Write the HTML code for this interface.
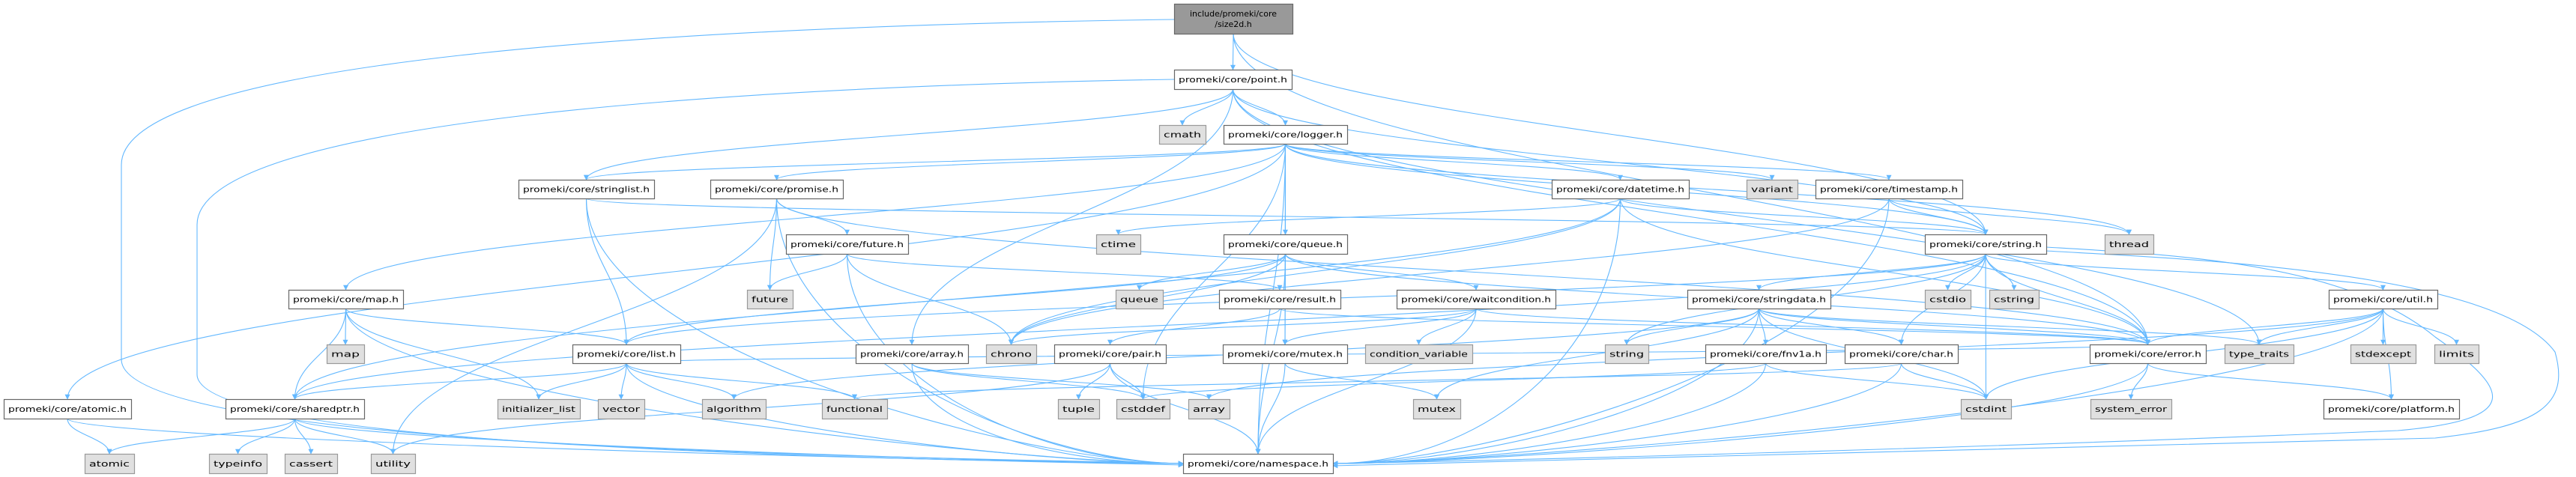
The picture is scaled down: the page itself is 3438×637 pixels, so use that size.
<!DOCTYPE html>
<html><head><meta charset="utf-8">
<style>
html,body{margin:0;padding:0;background:#fff;}
svg{display:block;}
text{font-family:"DejaVu Sans","Liberation Sans",sans-serif;font-size:11px;fill:#000;}
</style></head>
<body>
<svg id="g" width="3438" height="637" viewBox="0 0 3438 637" xmlns="http://www.w3.org/2000/svg">
<defs>
<marker id="ah" viewBox="0 0 10 10" refX="9" refY="5" markerWidth="7" markerHeight="7" markerUnits="userSpaceOnUse" orient="auto">
<path d="M0,0 L10,5 L0,10 z" fill="#63b8ff"/>
</marker>
</defs>
<g fill="none" stroke="#63b8ff" stroke-width="1.1">
<path d="M1567,26 C900,35 162,80 162,220 L162,480 C162,600 1200,610 1579,619" marker-end="url(#ah)"/>
<path d="M1567,106 C1000,115 263,160 263,300 L263,500 C263,600 1200,612 1579,621" marker-end="url(#ah)"/>
<path d="M2731,330 C2900,340 3130,350 3250,450 C3350,520 3370,560 3200,575 C2600,600 2000,615 1779,619" marker-end="url(#ah)"/>
<path d="M2731,335 C2900,345 3330,360 3410,470 C3430,540 3390,570 3250,585 C2600,605 2000,618 1779,622" marker-end="url(#ah)"/>
</g>
<g id="edges" fill="none" stroke="#63b8ff" stroke-width="1.1"></g>
<g id="nodes"></g>
</svg>
<script>
var N={
root:[1567,1725,5,45,'r',['include/promeki/core','/size2d.h']],
point:[1567,1724,93,119,'n','promeki/core/point.h'],
cmath:[1547,1609,167,192,'e','cmath'],
logger:[1633,1798,167,192,'n','promeki/core/logger.h'],
stringlist:[692,873,240,265,'n','promeki/core/stringlist.h'],
promise:[948,1125,240,265,'n','promeki/core/promise.h'],
datetime:[2071,2254,240,265,'n','promeki/core/datetime.h'],
variant:[2331,2399,240,265,'e','variant'],
timestamp:[2423,2619,240,265,'n','promeki/core/timestamp.h'],
futureh:[1049,1212,313,339,'n','promeki/core/future.h'],
ctime:[1463,1522,313,339,'e','ctime'],
queueh:[1633,1798,313,339,'n','promeki/core/queue.h'],
string:[2569,2731,313,339,'n','promeki/core/string.h'],
thread:[2809,2874,313,339,'e','thread'],
maph:[385,538,387,412,'n','promeki/core/map.h'],
future:[997,1058,387,412,'e','future'],
queue:[1489,1552,387,412,'e','queue'],
result:[1627,1789,387,412,'n','promeki/core/result.h'],
waitc:[1864,2076,387,412,'n','promeki/core/waitcondition.h'],
stringdata:[2252,2443,387,412,'n','promeki/core/stringdata.h'],
cstdio:[2569,2630,387,412,'e','cstdio'],
cstring:[2655,2721,387,412,'e','cstring'],
util:[3108,3253,387,412,'n','promeki/core/util.h'],
map:[436,486,460,485,'e','map'],
list:[764,908,460,485,'n','promeki/core/list.h'],
arrayh:[1142,1292,460,485,'n','promeki/core/array.h'],
chrono:[1316,1383,460,485,'e','chrono'],
pair:[1407,1556,460,485,'n','promeki/core/pair.h'],
mutexh:[1632,1798,460,485,'n','promeki/core/mutex.h'],
condvar:[1822,1965,460,485,'e','condition_variable'],
sstring:[2142,2200,460,485,'e','string'],
fnv:[2276,2437,460,485,'n','promeki/core/fnv1a.h'],
char:[2462,2613,460,485,'n','promeki/core/char.h'],
error:[2789,2944,460,485,'n','promeki/core/error.h'],
tt:[2969,3061,460,485,'e','type_traits'],
stdexcept:[3137,3224,460,485,'e','stdexcept'],
limits:[3249,3308,460,485,'e','limits'],
atomich:[5,175,533,559,'n','promeki/core/atomic.h'],
sp:[301,486,533,559,'n','promeki/core/sharedptr.h'],
il:[664,774,533,559,'e','initializer_list'],
vector:[798,860,533,559,'e','vector'],
algorithm:[937,1022,533,559,'e','algorithm'],
functional:[1097,1184,533,559,'e','functional'],
tuple:[1412,1467,533,559,'e','tuple'],
cstddef:[1490,1561,533,559,'e','cstddef'],
array:[1586,1641,533,559,'e','array'],
mutex:[1886,1949,533,559,'e','mutex'],
cstdint:[2617,2684,533,559,'e','cstdint'],
syserr:[2790,2898,533,559,'e','system_error'],
platform:[3101,3282,533,559,'n','promeki/core/platform.h'],
atomic:[113,179,606,632,'e','atomic'],
typeinfo:[279,356,606,632,'e','typeinfo'],
cassert:[380,450,606,632,'e','cassert'],
utility:[495,554,606,632,'e','utility'],
ns:[1579,1779,606,632,'n','promeki/core/namespace.h']
};
var E=[
['root','point'],['root','string'],['root','error'],
['point','cmath'],['point','logger'],['point','string'],['point','error'],['point','tt'],['point','arrayh'],['point','stringlist'],
['logger','datetime'],['logger','timestamp'],['logger','string'],['logger','stringlist'],['logger','promise'],['logger','queueh'],['logger','maph'],['logger','atomich'],['logger','mutexh'],['logger','thread'],['logger','variant'],['logger','ns'],['logger','cstddef'],
['datetime','string'],['datetime','ctime'],['datetime','chrono'],['datetime','error'],['datetime','ns'],['datetime','sp'],
['timestamp','string'],['timestamp','chrono'],['timestamp','thread'],['timestamp','ns'],
['stringlist','string'],['stringlist','list'],['stringlist','ns'],
['promise','futureh'],['promise','future'],['promise','utility'],['promise','ns'],['promise','error'],
['futureh','future'],['futureh','result'],['futureh','chrono'],['futureh','ns'],
['queueh','queue'],['queueh','mutexh'],['queueh','waitc'],['queueh','list'],['queueh','ns'],['queueh','error'],['queueh','chrono'],
['result','pair'],['result','error'],
['waitc','mutexh'],['waitc','condvar'],['waitc','chrono'],['waitc','ns'],['waitc','error'],
['string','stringdata'],['string','cstdio'],['string','cstring'],['string','util'],['string','error'],['string','char'],['string','list'],['string','sp'],['string','sstring'],['string','cstdint'],
['stringdata','sstring'],['stringdata','char'],['stringdata','fnv'],['stringdata','error'],['stringdata','tt'],['stringdata','cstdint'],['stringdata','mutex'],['stringdata','ns'],['stringdata','algorithm'],
['util','error'],['util','tt'],['util','stdexcept'],['util','limits'],['util','platform'],['util','cstdint'],['util','ns'],['util','array'],
['maph','map'],['maph','list'],['maph','sp'],['maph','il'],['maph','ns'],
['list','sp'],['list','il'],['list','vector'],['list','algorithm'],['list','functional'],['list','ns'],['list','error'],
['arrayh','array'],['arrayh','cstddef'],['arrayh','ns'],
['pair','tuple'],['pair','cstddef'],['pair','ns'],['pair','utility'],
['mutexh','mutex'],['mutexh','ns'],
['fnv','cstddef'],['fnv','cstdint'],['fnv','ns'],
['char','cstdint'],['char','ns'],['char','functional'],
['error','syserr'],['error','platform'],['error','ns'],
['sp','atomic'],['sp','typeinfo'],['sp','cassert'],['sp','utility'],['sp','ns'],
['atomich','atomic'],['atomich','ns']
];
var ns='http://www.w3.org/2000/svg';
var eg=document.getElementById('edges'),ng=document.getElementById('nodes');
E.forEach(function(e){
 var a=N[e[0]],b=N[e[1]];
 var sx=(a[0]+a[1])/2,sy=a[3],tx=(b[0]+b[1])/2,ty=b[2];
 var dy=ty-sy;
 var d;
 if(e[1]==='ns' && Math.abs(tx-sx)>300){
  var side=sx<tx?b[0]:b[1];
  var yy=(b[2]+b[3])/2;
  d='M'+sx+','+sy+' C'+sx+','+(sy+dy*0.6)+' '+(side+(sx<tx?-200:200))+','+yy+' '+side+','+yy;
 } else {
  d='M'+sx+','+sy+' C'+sx+','+(sy+dy*0.45)+' '+tx+','+(ty-dy*0.45)+' '+tx+','+ty;
 }
 var p=document.createElementNS(ns,'path');p.setAttribute('d',d);p.setAttribute('marker-end','url(#ah)');eg.appendChild(p);
});
for(var k in N){
 var n=N[k];var w=n[1]-n[0],h=n[3]-n[2];
 var r=document.createElementNS(ns,'rect');
 r.setAttribute('x',n[0]+0.5);r.setAttribute('y',n[2]+0.5);r.setAttribute('width',w);r.setAttribute('height',h);
 var f=n[4]==='r'?'#999999':(n[4]==='e'?'#e0e0e0':'#ffffff');
 var s=n[4]==='e'?'#999999':'#666666';
 r.setAttribute('fill',f);r.setAttribute('stroke',s);r.setAttribute('stroke-width','1.2');
 ng.appendChild(r);
 var lines=Array.isArray(n[5])?n[5]:[n[5]];
 lines.forEach(function(t,i){
  var tx=document.createElementNS(ns,'text');
  tx.setAttribute('x',(n[0]+n[1])/2);
  var cy=(n[2]+n[3])/2+4+(lines.length>1?(i-0.5)*14:0);
  tx.setAttribute('y',cy);tx.setAttribute('text-anchor','middle');
  if(lines.length===1){tx.setAttribute('textLength',w-12);tx.setAttribute('lengthAdjust','spacingAndGlyphs');}
  tx.textContent=t;ng.appendChild(tx);
 });
}
</script>
</body></html>
